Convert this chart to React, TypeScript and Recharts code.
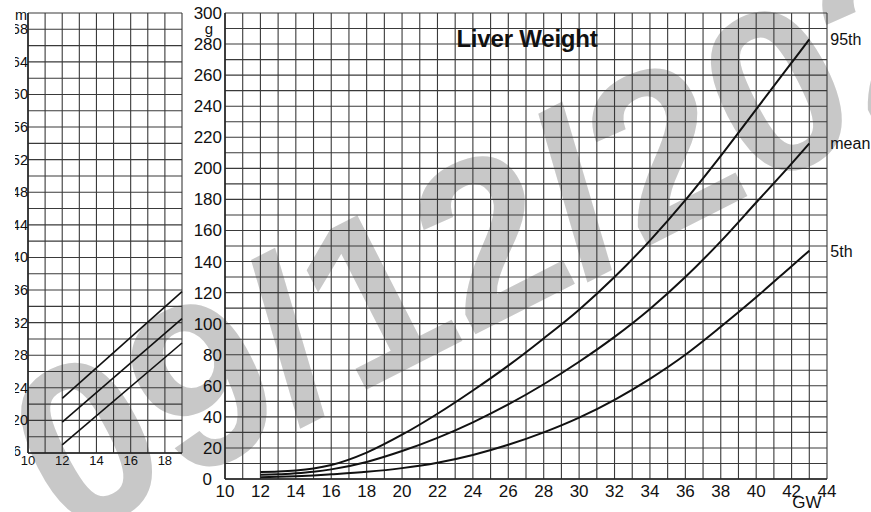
import React from 'react';
import { LineChart, Line, XAxis, YAxis, CartesianGrid, LabelList } from 'recharts';

// ── data ────────────────────────────────────────────────────────────
const GW = [12, 13, 14, 15, 16, 18, 20, 22, 24, 26, 28, 30, 32, 34, 36, 38, 40, 42, 43];
const P95 = [4.5, 4.8, 5.5, 6.8, 9, 17, 28.5, 42, 57, 73, 90.5, 109, 130, 153.5, 179.5, 208, 238, 268, 283];
const MEAN = [2.8, 3, 3.7, 4.7, 6.2, 11, 18, 26.5, 36.5, 48, 61, 75.5, 91.5, 109.5, 130, 153, 178, 203, 216];
const P5 = [1.2, 1.4, 1.8, 2.3, 3, 4.6, 7, 10.5, 15.5, 22, 30, 39.5, 51, 64.5, 80, 98, 117, 137, 147];
const SERIES_NAMES = { p95: '95th', mean: 'mean', p5: '5th' };

const X_TICKS = [10, 12, 14, 16, 18, 20, 22, 24, 26, 28, 30, 32, 34, 36, 38, 40, 42, 44];
const Y_TICKS = [0, 20, 40, 60, 80, 100, 120, 140, 160, 180, 200, 220, 240, 260, 280, 300];
const X_GRID = [10, 11, 12, 13, 14, 15, 16, 17, 18, 19, 20, 21, 22, 23, 24, 25, 26, 27, 28, 29, 30, 31, 32, 33, 34, 35, 36, 37, 38, 39, 40, 41, 42, 43, 44];
const Y_GRID = [0, 10, 20, 30, 40, 50, 60, 70, 80, 90, 100, 110, 120, 130, 140, 150, 160, 170, 180, 190, 200, 210, 220, 230, 240, 250, 260, 270, 280, 290, 300];

// partial chart cut off on the left
const LEFT_GW = [12, 19];
const LEFT_TOP = [22.7, 35.8];
const LEFT_MID = [19.8, 32.5];
const LEFT_LOW = [17.0, 29.5];
const LEFT_X_TICKS = [10, 12, 14, 16, 18];
const LEFT_Y_TICKS = [16, 20, 24, 28, 32, 36, 40, 44, 48, 52, 56, 60, 64, 68];
const LEFT_X_GRID = [10, 11, 12, 13, 14, 15, 16, 17, 18, 19];
const LEFT_Y_GRID = [16, 18, 20, 22, 24, 26, 28, 30, 32, 34, 36, 38, 40, 42, 44, 46, 48, 50, 52, 54, 56, 58, 60, 62, 64, 66, 68, 70];

const FONT = '"Liberation Sans", Arial, Helvetica, sans-serif';
const INK = '#111';
const GRID = '#3a3a3a';

const mainData = GW.map((g, i) => ({ gw: g, p95: P95[i], mean: MEAN[i], p5: P5[i] }));
const leftData = LEFT_GW.map((g, i) => ({ gw: g, top: LEFT_TOP[i], mid: LEFT_MID[i], low: LEFT_LOW[i] }));

// ── ticks ───────────────────────────────────────────────────────────
const MainYTick = ({ x, y, payload }: any) => {
  const zero = payload.value === 0;
  return (
    <text x={zero ? x - 10 : x} y={y} dy={6} textAnchor="end" fontSize={17} fontFamily={FONT} fill={INK}>
      {payload.value}
    </text>
  );
};

const MainXTick = ({ x, y, payload }: any) => (
  <text x={x} y={y + 18} textAnchor="middle" fontSize={17} fontFamily={FONT} fill={INK}>
    {payload.value}
  </text>
);

const LeftYTick = ({ x, y, payload }: any) => {
  const first = payload.value === 16;
  return (
    <text x={first ? x - 7 : x} y={first ? y - 2 : y} dy={5} textAnchor="end" fontSize={14.5} fontFamily={FONT} fill={INK}>
      {payload.value}
    </text>
  );
};

const LeftXTick = ({ x, y, payload }: any) => (
  <text x={x} y={y + 12} textAnchor="middle" fontSize={13} fontFamily={FONT} fill={INK}>
    {payload.value}
  </text>
);

// label at the end of each curve
const endLabel = (name: string) => (props: any) => {
  const { x, y, index } = props;
  if (index !== GW.length - 1) return null;
  return (
    <text x={x + 21} y={y} dy={6} fontSize={16} fontFamily={FONT} fill={INK}>
      {name}
    </text>
  );
};

export default function App() {
  return (
    <div
      style={{
        position: 'absolute',
        left: 0,
        top: 0,
        width: 871,
        height: 512,
        overflow: 'hidden',
        background: '#fff',
        fontFamily: FONT,
      }}
    >
      {/* watermark */}
      <svg width={871} height={512} style={{ position: 'absolute', left: 0, top: 0 }}>
        <text
          x={66}
          y={543}
          transform="rotate(-27 66 543)"
          fontSize={232}
          fontWeight="bold"
          fontFamily={FONT}
          fill="#c8c8c8"
        >
          09/12/2020
        </text>
      </svg>

      {/* left, cropped chart */}
      <div style={{ position: 'absolute', left: 0, top: 0 }}>
        <LineChart width={190} height={512} data={leftData} margin={{ top: 13, right: 8, bottom: 39, left: 0 }}>
          <CartesianGrid
            horizontalValues={LEFT_Y_GRID}
            verticalValues={LEFT_X_GRID}
            stroke={GRID}
            strokeWidth={1.1}
          />
          <XAxis
            type="number"
            dataKey="gw"
            domain={[10, 19]}
            ticks={LEFT_X_TICKS}
            height={20}
            tickSize={0}
            tickMargin={0}
            axisLine={{ stroke: '#222', strokeWidth: 1.5 }}
            tick={<LeftXTick />}
            interval={0}
          />
          <YAxis
            type="number"
            domain={[16, 70]}
            ticks={LEFT_Y_TICKS}
            width={28}
            tickSize={0}
            tickMargin={0}
            axisLine={{ stroke: '#222', strokeWidth: 1.5 }}
            tick={<LeftYTick />}
            interval={0}
          />
          <Line type="linear" dataKey="top" stroke={INK} strokeWidth={1.6} dot={false} isAnimationActive={false} />
          <Line type="linear" dataKey="mid" stroke={INK} strokeWidth={1.6} dot={false} isAnimationActive={false} />
          <Line type="linear" dataKey="low" stroke={INK} strokeWidth={1.6} dot={false} isAnimationActive={false} />
        </LineChart>
      </div>

      {/* main chart */}
      <div style={{ position: 'absolute', left: 0, top: 0 }}>
        <LineChart width={871} height={512} data={mainData} margin={{ top: 13, right: 44, bottom: 3, left: 190 }}>
          <CartesianGrid horizontalValues={Y_GRID} verticalValues={X_GRID} stroke={GRID} strokeWidth={1.1} />
          <XAxis
            type="number"
            dataKey="gw"
            domain={[10, 44]}
            ticks={X_TICKS}
            height={30}
            tickSize={0}
            tickMargin={0}
            axisLine={{ stroke: '#222', strokeWidth: 1.5 }}
            tick={<MainXTick />}
            interval={0}
          />
          <YAxis
            type="number"
            domain={[0, 300]}
            ticks={Y_TICKS}
            width={35}
            tickSize={0}
            tickMargin={3}
            axisLine={{ stroke: '#222', strokeWidth: 1.5 }}
            tick={<MainYTick />}
            interval={0}
          />
          <Line type="monotone" dataKey="p95" stroke={INK} strokeWidth={2} dot={false} isAnimationActive={false}>
            <LabelList dataKey="p95" content={endLabel(SERIES_NAMES.p95)} />
          </Line>
          <Line type="monotone" dataKey="mean" stroke={INK} strokeWidth={2} dot={false} isAnimationActive={false}>
            <LabelList dataKey="mean" content={endLabel(SERIES_NAMES.mean)} />
          </Line>
          <Line type="monotone" dataKey="p5" stroke={INK} strokeWidth={2} dot={false} isAnimationActive={false}>
            <LabelList dataKey="p5" content={endLabel(SERIES_NAMES.p5)} />
          </Line>
        </LineChart>
      </div>

      {/* titles and units */}
      <svg width={871} height={512} style={{ position: 'absolute', left: 0, top: 0, pointerEvents: 'none' }}>
        <text x={527} y={47} textAnchor="middle" fontSize={24} fontWeight="bold" letterSpacing={-0.2} fontFamily={FONT} fill={INK}>
          Liver Weight
        </text>
        <text x={209} y={34} textAnchor="middle" fontSize={15} fontFamily={FONT} fill={INK}>
          g
        </text>
        <text x={807} y={508} textAnchor="middle" fontSize={17} fontFamily={FONT} fill={INK}>
          GW
        </text>
        <text x={27} y={20} textAnchor="end" fontSize={14.5} fontFamily={FONT} fill={INK}>
          mm
        </text>
        {/* scan cropped at the left edge */}
        <rect x={0} y={0} width={15} height={512} fill="#fff" />
      </svg>
    </div>
  );
}
